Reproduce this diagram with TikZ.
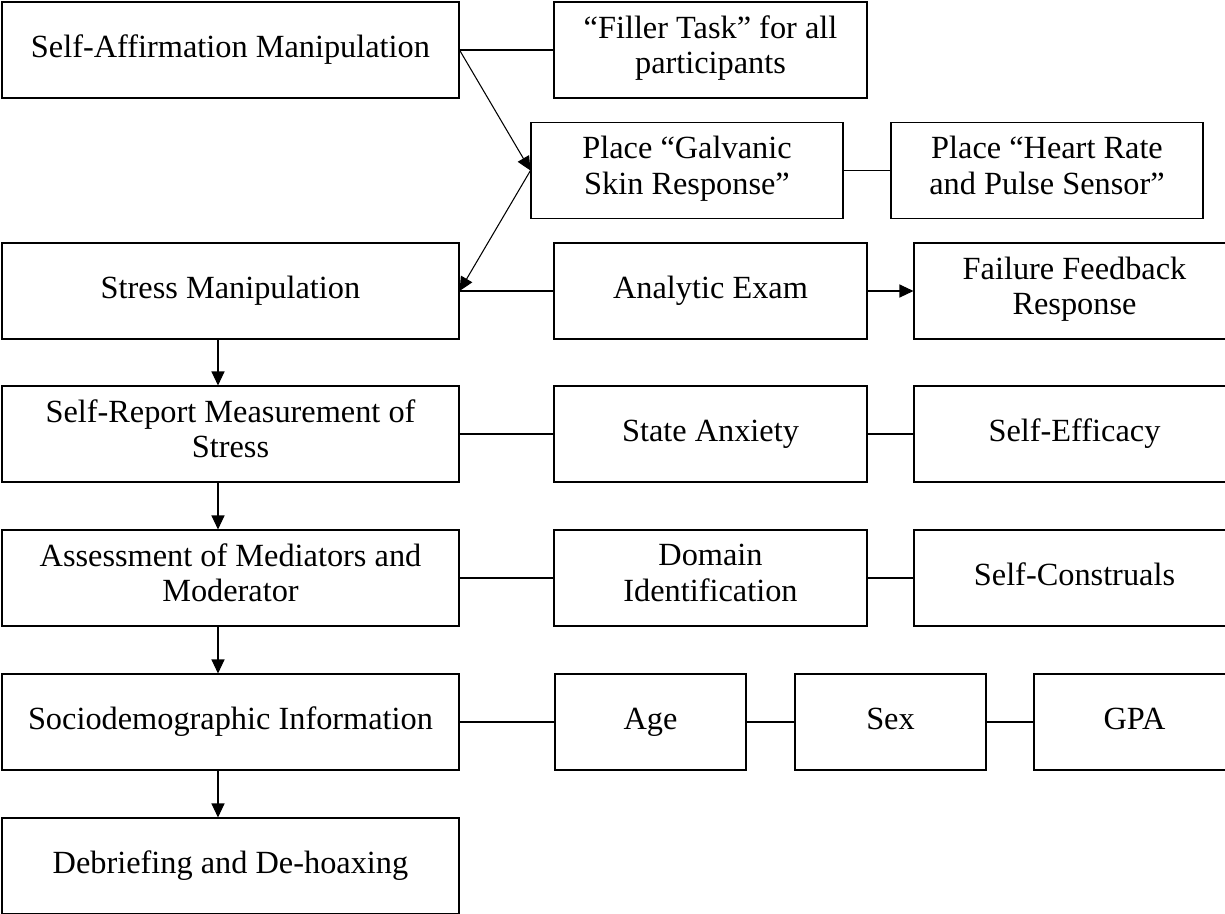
\documentclass[tikz,border=0pt]{standalone}
\usepackage{fontspec}
\setmainfont{Liberation Serif}
\usetikzlibrary{arrows.meta,positioning}

\tikzset{
  stepbox/.style={draw, line width=0.6pt, minimum height=1.92cm, align=center, inner sep=0pt,
    execute at begin node=\strut, execute at end node=\strut},
  leftbox/.style={stepbox, minimum width=9.14cm},
  sidebox/.style={stepbox, minimum width=6.26cm},
  edgebox/.style={stepbox, minimum width=6.42cm},
  smallbox/.style={stepbox, minimum width=3.82cm},
  link/.style={line width=0.6pt},
}

\begin{document}
\begin{tikzpicture}[font=\fontsize{18.4}{20.2}\selectfont,>={Triangle[length=2.8mm,width=2.6mm]}]
\useasboundingbox (0,0) rectangle (24.5,-18.26);
\clip (0,0) rectangle (24.5,-18.26);
% main sequence (left column)
\foreach \nm/\yy/\txt in {affirm/-1.0/{Self-Affirmation Manipulation},
    stress/-5.82/{Stress Manipulation},
    report/-8.68/{Self-Report Measurement of\\Stress},
    assess/-11.56/{Assessment of Mediators and\\Moderator},
    socio/-14.44/{Sociodemographic Information},
    debrief/-17.32/{Debriefing and De-hoaxing}}{
  \node[leftbox] (\nm) at (4.61,\yy) {\txt};
}
% side tasks and measures
\node[sidebox] (filler) at (14.21,-1.0) {“Filler Task” for all\\participants};
\node[sidebox,minimum width=6.24cm] (galv) at (13.74,-3.41) {Place “Galvanic\\Skin Response”};
\node[sidebox,minimum width=6.24cm] (heart) at (20.94,-3.41) {Place “Heart Rate\\and Pulse Sensor”};
\node[sidebox] (exam) at (14.21,-5.82) {Analytic Exam};
\node[edgebox] (fail) at (21.49,-5.82) {Failure Feedback\\Response};
\node[sidebox] (anx) at (14.21,-8.68) {State Anxiety};
\node[edgebox] (effic) at (21.49,-8.68) {Self-Efficacy};
\node[sidebox] (domain) at (14.21,-11.56) {Domain\\Identification};
\node[edgebox] (constr) at (21.49,-11.56) {Self-Construals};
\node[smallbox] (age) at (13.01,-14.44) {Age};
\node[smallbox] (sex) at (17.81,-14.44) {Sex};
\node[smallbox,minimum width=4.02cm] (gpa) at (22.69,-14.44) {GPA};

% connectors
\draw[link] (affirm.east) -- (filler.west);
\draw[link,->] (affirm.east) -- (galv.west);
\draw[link,->] (galv.west) -- (stress.east);
\draw[link] (galv) -- (heart);
\draw[link] (stress) -- (exam);
\draw[link,->] (exam) -- (fail);
\draw[link] (report) -- (anx) (anx) -- (effic);
\draw[link] (assess) -- (domain) (domain) -- (constr);
\draw[link] (socio) -- (age) (age) -- (sex) (sex) -- (gpa);
\foreach \a/\b in {stress/report, report/assess, assess/socio, socio/debrief}
  \draw[link,->] ([xshift=-0.25cm]\a.south) -- ([xshift=-0.25cm]\b.north);
\end{tikzpicture}
\end{document}
